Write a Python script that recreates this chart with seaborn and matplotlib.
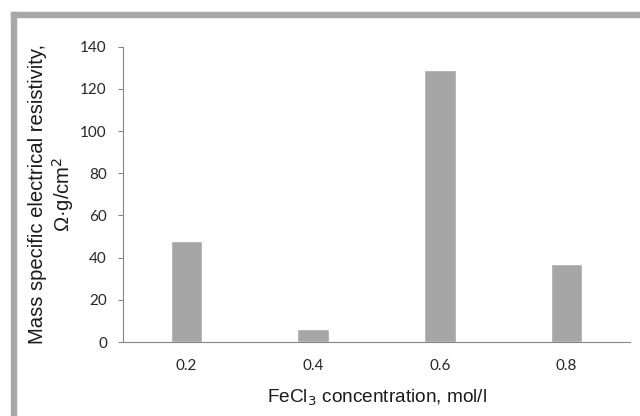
import numpy as np
import pandas as pd
import matplotlib
matplotlib.use('Agg')
import matplotlib.pyplot as plt
import seaborn as sns
from matplotlib.patches import Rectangle

# data
concentration = ['0.2', '0.4', '0.6', '0.8']
resistivity = [48, 6, 129, 37]
y_ticks = [0, 20, 40, 60, 80, 100, 120, 140]

df = pd.DataFrame({'conc': concentration, 'rho': resistivity})

sns.set_style('white')
fig = plt.figure(figsize=(6.4, 4.16), dpi=100)
ax = fig.add_axes([123 / 640, 1 - 342 / 416, (630 - 123) / 640, (342 - 46.7) / 416])

sns.barplot(data=df, x='conc', y='rho', color='#a6a6a6', width=0.25,
            saturation=1, ax=ax)

ax.set_ylim(0, 140)
ax.set_yticks(y_ticks)
ax.set_xlim(-0.5, 3.5)

# axes styling, excel-like
sns.despine(ax=ax, top=True, right=True)
for s in ['left', 'bottom']:
    ax.spines[s].set_color('#868686')
    ax.spines[s].set_linewidth(0.8)
ax.tick_params(axis='y', which='both', left=True, length=3.6, width=0.8,
               color='#868686', pad=8)
ax.tick_params(axis='x', bottom=False, pad=9)
for lab in ax.get_xticklabels() + ax.get_yticklabels():
    lab.set_fontfamily('Lato')
    lab.set_fontsize(11)
    lab.set_color('#262626')

ax.set_xlabel('FeCl$_3$ concentration, mol/l', fontsize=13.7,
              family='Liberation Sans', color='#1a1a1a', labelpad=10)
ax.set_ylabel('Mass specific electrical resistivity,\n\u03a9\u00b7g/cm$^2$',
              fontsize=14.6, family='Liberation Sans', color='#1a1a1a',
              labelpad=3, linespacing=1.15)

# grey frame of the original figure (left and top edges)
fig.patches.append(Rectangle((11 / 640, 0), 5 / 640, 1 - 12 / 416,
                             transform=fig.transFigure, color='#a8a8a8',
                             zorder=0))
fig.patches.append(Rectangle((11 / 640, 1 - 17 / 416), 1, 5 / 416,
                             transform=fig.transFigure, color='#a8a8a8',
                             zorder=0))

fig.savefig('out.png', dpi=100)
